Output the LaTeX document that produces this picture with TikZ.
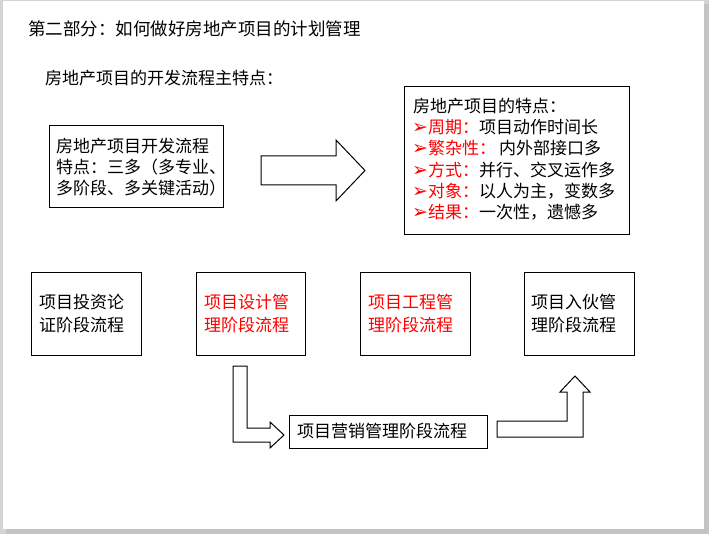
\documentclass[tikz,border=0pt]{standalone}
\usepackage{fontspec}
\setmainfont{Noto Sans CJK SC}
\newfontfamily\symfont{DejaVu Sans}
\definecolor{edgegray}{HTML}{D4D4D4}
\definecolor{shadowgray}{HTML}{C4C4C4}
\definecolor{hired}{HTML}{FF0000}
\newcommand{\bularrow}{{\symfont\fontsize{19}{19}\selectfont ➢}}
\begin{document}
\begin{tikzpicture}[x=1pt,y=-1pt,
  txt/.style={anchor=base west, inner sep=0pt, font=\fontsize{17}{17}\selectfont},
  ttl/.style={anchor=base west, inner sep=0pt, font=\fontsize{17.5}{17.5}\selectfont},
  box/.style={draw=black, line width=1pt, inner sep=0pt, anchor=north west},
  blockarrow/.style={draw=black, line width=1pt, fill=white, line join=miter}]
\useasboundingbox (0,0) rectangle (709,534);
% slide frame
\fill[edgegray] (0,0) rectangle (709,534);
\fill[shadowgray] (6,4) rectangle (709,534);
\fill[white] (3,1) rectangle (704,529);

% headings
\node[ttl] (title) at (28,35.6) {第二部分：如何做好房地产项目的计划管理};
\node[txt] (sub) at (45,84.5) {房地产项目的开发流程主特点：};

% left box
\node[box, minimum width=174pt, minimum height=82pt] (lbox) at (49,125) {};
\node[txt] (l1) at (56,152.5) {房地产项目开发流程};
\node[txt] (l2) at (56,173.5) {特点：三多（多专业、};
\node[txt] (l3) at (56,194.5) {多阶段、多关键活动）};

% big arrow
\draw[blockarrow] (261,156) -- (336,156) -- (336,140) -- (365,170.5) -- (336,201) -- (336,185) -- (261,185) -- cycle;

% right box
\node[box, minimum width=225pt, minimum height=148pt] (rbox) at (404,86) {};
\node[txt] (r0) at (413,112.5) {房地产项目的特点：};
\node[txt] (r1) at (412,133.7) {\textcolor{hired}{\bularrow 周期：}项目动作时间长};
\node[txt] (r2) at (412,154.9) {\textcolor{hired}{\bularrow 繁杂性：}\hspace{3pt}内外部接口多};
\node[txt] (r3) at (412,176.1) {\textcolor{hired}{\bularrow 方式：}并行、交叉运作多};
\node[txt] (r4) at (412,197.3) {\textcolor{hired}{\bularrow 对象：}以人为主，变数多};
\node[txt] (r5) at (412,218.5) {\textcolor{hired}{\bularrow 结果：}一次性，遗憾多};

% bottom row boxes
\node[box, minimum width=110pt, minimum height=83pt] (b1) at (31,272) {};
\node[box, minimum width=109pt, minimum height=83pt] (b2) at (196,272) {};
\node[box, minimum width=110pt, minimum height=83pt] (b3) at (360,272) {};
\node[box, minimum width=110pt, minimum height=83pt] (b4) at (524,272) {};
\node[txt] (b1a) at (39,309) {项目投资论};
\node[txt] (b1b) at (39,331) {证阶段流程};
\node[txt, text=hired] (b2a) at (204,309) {项目设计管};
\node[txt, text=hired] (b2b) at (204,331) {理阶段流程};
\node[txt, text=hired] (b3a) at (368,309) {项目工程管};
\node[txt, text=hired] (b3b) at (368,331) {理阶段流程};
\node[txt] (b4a) at (531,309) {项目入伙管};
\node[txt] (b4b) at (531,331) {理阶段流程};

% marketing box
\node[box, minimum width=198pt, minimum height=33pt] (b5) at (289,415) {};
\node[txt] (b5a) at (297,437) {项目营销管理阶段流程};

% bent arrows
\draw[blockarrow] (233,366) -- (247,366) -- (247,428) -- (270,428) -- (270,422) -- (284,435) -- (270,448) -- (270,442) -- (233,442) -- cycle;
\draw[blockarrow] (497,421) -- (567,421) -- (567,392) -- (560,392) -- (575,376) -- (590,392) -- (583,392) -- (583,437) -- (497,437) -- cycle;
\end{tikzpicture}
\end{document}
